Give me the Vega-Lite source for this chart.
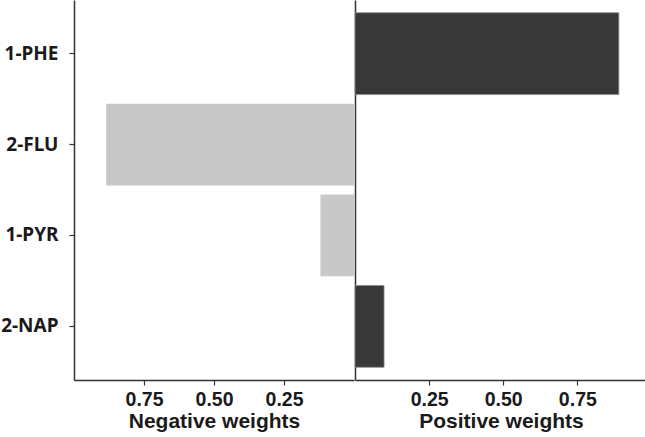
{
  "$schema": "https://vega.github.io/schema/vega-lite/v6.json",
  "padding": 0,
  "background": "white",
  "data": {"values": [
    {"compound": "1-PHE", "side": "Positive", "weight": 0.89},
    {"compound": "2-FLU", "side": "Negative", "weight": 0.885},
    {"compound": "1-PYR", "side": "Negative", "weight": 0.12},
    {"compound": "2-NAP", "side": "Positive", "weight": 0.098}
  ]},
  "spacing": 0,
  "config": {
    "view": {"stroke": null},
    "axis": {
      "domainColor": "#333333",
      "domainWidth": 1.5,
      "tickColor": "#333333",
      "tickWidth": 1.2,
      "labelColor": "#1a1a1a",
      "titleColor": "#1a1a1a",
      "grid": false
    }
  },
  "hconcat": [
    {
      "width": 280,
      "height": 380,
      "transform": [{"filter": "datum.side === 'Negative'"}],
      "mark": {"type": "bar", "color": "#c8c8c8"},
      "encoding": {
        "y": {
          "field": "compound", "type": "nominal",
          "scale": {"domain": ["1-PHE", "2-FLU", "1-PYR", "2-NAP"], "paddingInner": 0.1, "paddingOuter": 0.14},
          "axis": {
            "title": null, "tickSize": 5, "labelPadding": 11,
            "labelFont": "Noto Sans", "labelFontWeight": "bold", "labelFontSize": 19,
            "minExtent": 73, "maxExtent": 73
          }
        },
        "x": {
          "field": "weight", "type": "quantitative",
          "scale": {"domain": [0, 1.0], "reverse": true, "nice": false},
          "axis": {
            "title": "Negative weights", "values": [0.25, 0.5, 0.75], "format": ".2f",
            "tickSize": 5, "labelPadding": 5,
            "labelFont": "Liberation Sans", "labelFontWeight": "bold", "labelFontSize": 19.5,
            "titleFont": "Liberation Sans", "titleFontWeight": "bold", "titleFontSize": 21,
            "titlePadding": 2
          }
        }
      }
    },
    {
      "width": 292,
      "height": 380,
      "transform": [{"filter": "datum.side === 'Positive'"}],
      "mark": {"type": "bar", "color": "#383838", "stroke": "#8a8a8a", "strokeWidth": 0.8},
      "encoding": {
        "y": {
          "field": "compound", "type": "nominal",
          "scale": {"domain": ["1-PHE", "2-FLU", "1-PYR", "2-NAP"], "paddingInner": 0.1, "paddingOuter": 0.14},
          "axis": {"title": null, "labels": false, "ticks": false, "minExtent": 0, "maxExtent": 0}
        },
        "x": {
          "field": "weight", "type": "quantitative",
          "scale": {"domain": [0, 0.985], "nice": false},
          "axis": {
            "title": "Positive weights", "values": [0.25, 0.5, 0.75], "format": ".2f",
            "tickSize": 5, "labelPadding": 5,
            "labelFont": "Liberation Sans", "labelFontWeight": "bold", "labelFontSize": 19.5,
            "titleFont": "Liberation Sans", "titleFontWeight": "bold", "titleFontSize": 21,
            "titlePadding": 2
          }
        }
      }
    }
  ]
}
